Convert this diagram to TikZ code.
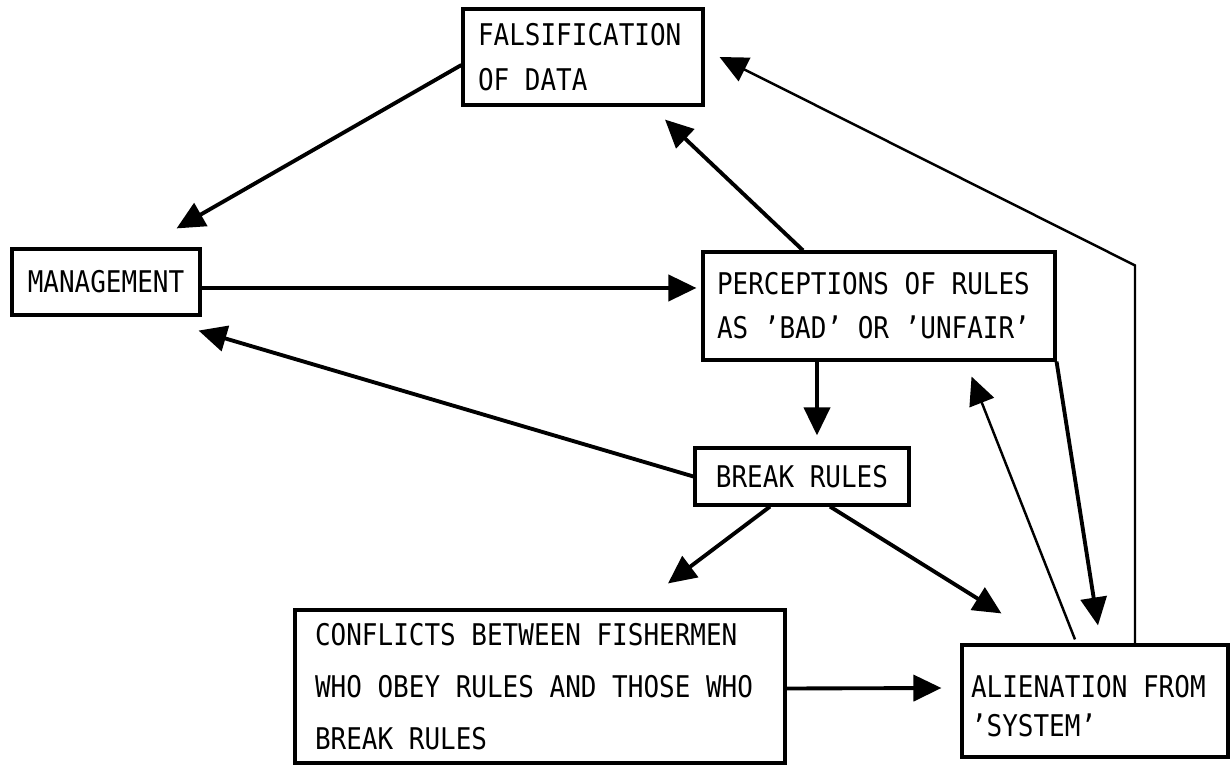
\documentclass[tikz,border=0pt]{standalone}
\usepackage{fontspec}
\newfontfamily\typefont{DejaVu Sans Mono}[Ligatures=TeX,FakeStretch=0.87]
\usetikzlibrary{arrows.meta}

\begin{document}
\begin{tikzpicture}[
 x=0.02cm,y=-0.02cm,
 concept/.style={draw,line width=1.8pt,inner sep=0pt,align=left,font={\typefont\fontsize{17pt}{#1}\selectfont},
  execute at begin node={\spaceskip=8.9pt\relax}},
 arrow/.style={-{Triangle[length=5.6mm,width=5.2mm]},line width=2.2pt},
 thinarrow/.style={arrow,line width=1.4pt}
]
\useasboundingbox (0,0) rectangle (1232,766);
\node[concept=26pt,minimum width=4.8cm,minimum height=1.92cm,text width=4.2cm] (fals) at (583,57) {FALSIFICATION\\OF DATA};
\node[concept=20pt,minimum width=3.76cm,minimum height=1.32cm,align=center] (mgmt) at (106,282) {MANAGEMENT};
\node[concept=25pt,minimum width=7.04cm,minimum height=2.16cm,text width=6.48cm] (perc) at (879,306) {PERCEPTIONS OF RULES\\AS 'BAD' OR 'UNFAIR'};
\node[concept=20pt,minimum width=4.28cm,minimum height=1.14cm,align=center] (brk) at (802,476.5) {BREAK RULES};
\node[concept=29.5pt,minimum width=9.8cm,minimum height=3.06cm,text width=9.0cm] (conf) at (540,686.5) {CONFLICTS BETWEEN FISHERMEN\\WHO OBEY RULES AND THOSE WHO\\BREAK RULES};
\node[concept=22.7pt,minimum width=5.32cm,minimum height=2.24cm,text width=4.96cm,text depth=0.6cm] (alien) at (1095,701) {ALIENATION FROM\\'SYSTEM'};
\draw[arrow] ([shift={(0,8)}]fals.west) -- ([shift={(-25,-19)}]mgmt.north east);
\draw[arrow] ([shift={(0,6)}]mgmt.east) -- ([shift={(-5,-18)}]perc.west);
\draw[arrow] ([shift={(-76,0)}]perc.north) -- ([shift={(82,13)}]fals.south);
\draw[thinarrow] ([shift={(40,0)}]alien.north) -- ++(0,-378) -- ([shift={(15,0)}]fals.east);
\draw[arrow] ([shift={(-62,0)}]perc.south) -- ([shift={(15,-11)}]brk.north);
\draw[arrow] (brk.west) -- ([shift={(-3,14)}]mgmt.south east);
\draw[arrow] ([shift={(-32,0)}]brk.south) -- ([shift={(128,-25)}]conf.north);
\draw[arrow] ([shift={(28,0)}]brk.south) -- ([shift={(41,-30)}]alien.north west);
\draw[arrow] ([shift={(0,2)}]conf.east) -- ([shift={(-19,-13)}]alien.west);
\draw[arrow] (perc.south east) -- ([shift={(3,-18)}]alien.north);
\draw[thinarrow] ([shift={(-20,-4)}]alien.north) -- ([shift={(-85,15)}]perc.south east);
\end{tikzpicture}
\end{document}
